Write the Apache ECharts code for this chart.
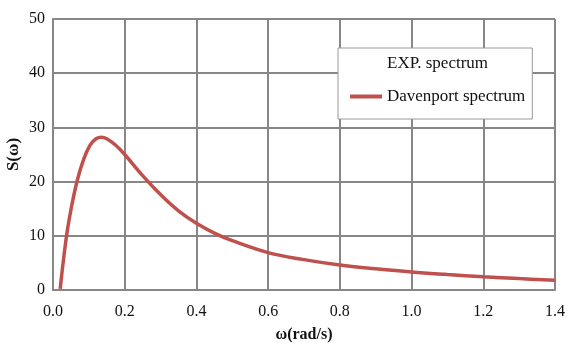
<!DOCTYPE html>
<html>
<head>
<meta charset="utf-8">
<script src="https://cdn.jsdelivr.net/npm/echarts@6/dist/echarts.min.js"></script>
<style>html,body{margin:0;padding:0;background:#fff}#c{width:570px;height:343px}</style>
</head>
<body>
<div id="c"></div>
<script>
var omega = [0.02,0.026,0.033,0.04,0.052,0.068,0.085,0.103,0.12,0.135,0.15,0.175,0.2,0.25,0.3,0.35,0.4,0.45,0.5,0.6,0.7,0.8,0.9,1.0,1.1,1.2,1.3,1.4];
var davenport = [0.2,3.8,7.6,11.0,15.5,20.3,24.0,26.7,27.9,28.2,27.9,26.7,25.0,21.1,17.6,14.6,12.3,10.5,9.1,6.9,5.6,4.6,3.9,3.3,2.85,2.45,2.1,1.8];
var xTitle = 'ω(rad/s)';
var yTitle = 'S(ω)';
var seriesNames = ['EXP. spectrum', 'Davenport spectrum'];

var font = 'Liberation Serif';
var gridColor = '#878787';
var red = '#C0504D';
var chart = echarts.init(document.getElementById('c'));
chart.setOption({
  animation: false,
  textStyle: { fontFamily: font },
  grid: { left: 53, right: 15, top: 19, bottom: 53, containLabel: false, outerBoundsMode: 'none' },
  legend: {
    orient: 'vertical',
    left: 338, top: 48,
    padding: [7, 7, 14, 10],
    itemWidth: 32, itemHeight: 14, itemGap: 16,
    backgroundColor: '#fff',
    borderColor: '#9a9a9a', borderWidth: 1,
    textStyle: { fontFamily: font, fontSize: 17, color: '#111' },
    data: [
      { name: seriesNames[0], icon: 'none' },
      { name: seriesNames[1], itemStyle: { opacity: 0 }, lineStyle: { color: red, width: 4 } }
    ]
  },
  xAxis: {
    type: 'value', min: 0, max: 1.4, interval: 0.2,
    name: xTitle, nameLocation: 'middle', nameGap: 37, nameMoveOverlap: false,
    nameTextStyle: { fontFamily: font, fontSize: 16, fontWeight: 'bold', color: '#111' },
    axisLine: { lineStyle: { color: gridColor, width: 2 } },
    axisTick: { show: false },
    axisLabel: { fontFamily: font, fontSize: 16, color: '#111', margin: 14, formatter: function(v){ return v.toFixed(1); } },
    splitLine: { show: true, lineStyle: { color: gridColor, width: 2 } }
  },
  yAxis: {
    type: 'value', min: 0, max: 50, interval: 10,
    name: yTitle, nameLocation: 'middle', nameGap: 31, nameRotate: 90, nameMoveOverlap: false,
    nameTextStyle: { fontFamily: font, fontSize: 17, fontWeight: 'bold', color: '#111' },
    axisLine: { show: true, lineStyle: { color: gridColor, width: 2 } },
    axisTick: { show: false },
    axisLabel: { fontFamily: font, fontSize: 16, color: '#111', margin: 8 },
    splitLine: { show: true, lineStyle: { color: gridColor, width: 2 } }
  },
  series: [
    { name: seriesNames[0], type: 'line', data: [], symbol: 'none',
      itemStyle: { color: 'transparent' }, lineStyle: { color: 'transparent' } },
    { name: seriesNames[1], type: 'line', smooth: 0.4, symbol: 'none',
      itemStyle: { color: red },
      lineStyle: { color: red, width: 3.5 },
      data: omega.map(function(w, i){ return [w, davenport[i]]; }) }
  ]
});
</script>
</body>
</html>
